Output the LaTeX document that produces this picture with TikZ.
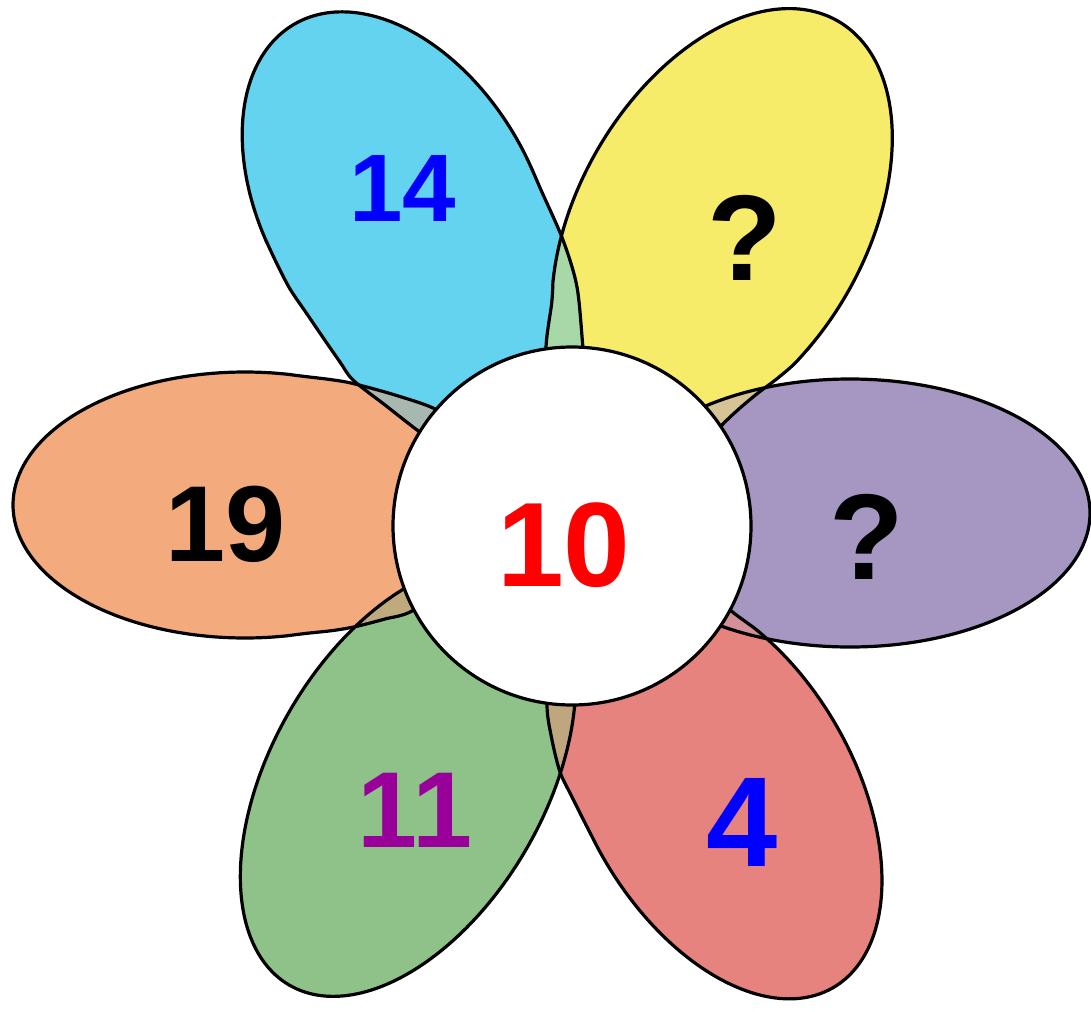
\documentclass[tikz,border=0pt]{standalone}
\usepackage{fontspec}
\setmainfont{Liberation Sans}
\definecolor{pblue}{RGB}{99,211,240}
\definecolor{pyellow}{RGB}{247,235,106}
\definecolor{ppurple}{RGB}{165,150,194}
\definecolor{pred}{RGB}{230,131,127}
\definecolor{pgreen}{RGB}{143,194,137}
\definecolor{porange}{RGB}{243,170,124}
\definecolor{oBY}{RGB}{168,216,168}
\definecolor{oYP}{RGB}{212,196,150}
\definecolor{oPR}{RGB}{210,144,152}
\definecolor{oRG}{RGB}{191,166,126}
\definecolor{oGO}{RGB}{190,170,125}
\definecolor{oOB}{RGB}{168,184,176}
\definecolor{numpurple}{RGB}{153,0,153}
\tikzset{
  outline/.style={draw=black,line width=3.2pt},
  num/.style={font=\bfseries\fontsize{#1}{#1}\selectfont,inner sep=0pt}
}
% blue petal: ellipse outer part + measured inner part
\def\pB{plot[smooth,domain=-80:100,samples=60,variable=\t]
  ({399+209*cos(\t)*(-0.5)+135*sin(\t)*0.866},{205+209*cos(\t)*(-0.866)+135*sin(\t)*(-0.5)})
  -- plot[smooth] coordinates {(532.3,169.9) (541,190) (563,240) (577,287) (583,348) (588,400) (582,455) (555,495) (505,485) (455,458) (417,430) (385,405) (353,380) (340,362) (324,339) (307,314) (290,289) (276.5,263) (265.75,240)} -- cycle}
% yellow petal
\def\pY{plot[smooth,domain=-126:106,samples=70,variable=\t]
  ({722+232*cos(\t)*0.5+144*sin(\t)*0.866},{222+232*cos(\t)*(-0.866)+144*sin(\t)*0.5})
  -- plot[smooth] coordinates {(809.9,346.5) (794.1,364.1) (776,379.5) (758,393) (740,408) (722,425) (690,460) (640,490) (590,480) (560,440) (550,395) (546,348) (551.7,302.9) (552.9,281.9)} -- cycle}
% purple petal
\def\pP{(850,513) ellipse [x radius=240, y radius=134]}
% red petal
\def\pR{plot[smooth,domain=-96:124,samples=70,variable=\t]
  ({720+226*cos(\t)*0.5+134*sin(\t)*0.866},{792+226*cos(\t)*0.866+134*sin(\t)*(-0.5)})
  -- plot[smooth] coordinates {(753,627) (736.2,614.9) (700,588) (640,572) (580,595) (552,650) (547,705) (552,740) (560,772) (571,795) (582,817) (592.8,838.2)} -- cycle}
% green petal
\def\pG{plot[smooth,domain=0:360,samples=100,variable=\t]
  ({408+237*cos(\t)*(-0.5)+137*sin(\t)*0.866},{780+237*cos(\t)*0.866+137*sin(\t)*0.5}) -- cycle}
% orange petal
\def\pO{plot[smooth,domain=-100:100,samples=60,variable=\t]
  ({245-232*cos(\t)},{505+133*sin(\t)})
  -- plot[smooth] coordinates {(285.3,636) (305,633.5) (333,630.5) (356,626.5) (385,619) (412,611) (455,580) (490,530) (480,465) (460,433) (437,410) (395,395) (353,383.5) (330,379.5) (305,376.5) (285.3,374)} -- cycle}
\begin{document}
\begin{tikzpicture}[x=1pt,y=-1pt]
\useasboundingbox (0,0) rectangle (1091,1011);
% petal fills
\fill[pblue] \pB;
\fill[pyellow] \pY;
\fill[ppurple] \pP;
\fill[pred] \pR;
\fill[pgreen] \pG;
\fill[porange] \pO;
% overlaps
\begin{scope}\clip \pB; \fill[oBY] \pY;\end{scope}
\begin{scope}\clip \pY; \fill[oYP] \pP;\end{scope}
\begin{scope}\clip \pP; \fill[oPR] \pR;\end{scope}
\begin{scope}\clip \pR; \fill[oRG] \pG;\end{scope}
\begin{scope}\clip \pG; \fill[oGO] \pO;\end{scope}
\begin{scope}\clip \pO; \fill[oOB] \pB;\end{scope}
% outlines
\draw[outline] \pB;
\draw[outline] \pY;
\draw[outline] \pP;
\draw[outline] \pR;
\draw[outline] \pG;
\draw[outline] \pO;
% centre
\node[circle,fill=white,outline,minimum size=358pt,inner sep=0pt] (centre) at (572,526) {};
% numbers
\node[num=96,text={rgb,255:red,0;green,0;blue,255}] (n14) at (403,188) {14};
\node[num=122,text=black] (q1) at (745,238) {?};
\node[num=108,text=black] (n19) at (226,524) {19};
\node[num=120,text={rgb,255:red,255;green,0;blue,0}] (n10) at (564,545) {10};
\node[num=122,text=black] (q2) at (867,537) {?};
\node[num=108,text=numpurple] (n11) at (415,810) {11};
\node[num=128,text={rgb,255:red,0;green,0;blue,255}] (n4) at (742,822) {4};
\end{tikzpicture}
\end{document}
